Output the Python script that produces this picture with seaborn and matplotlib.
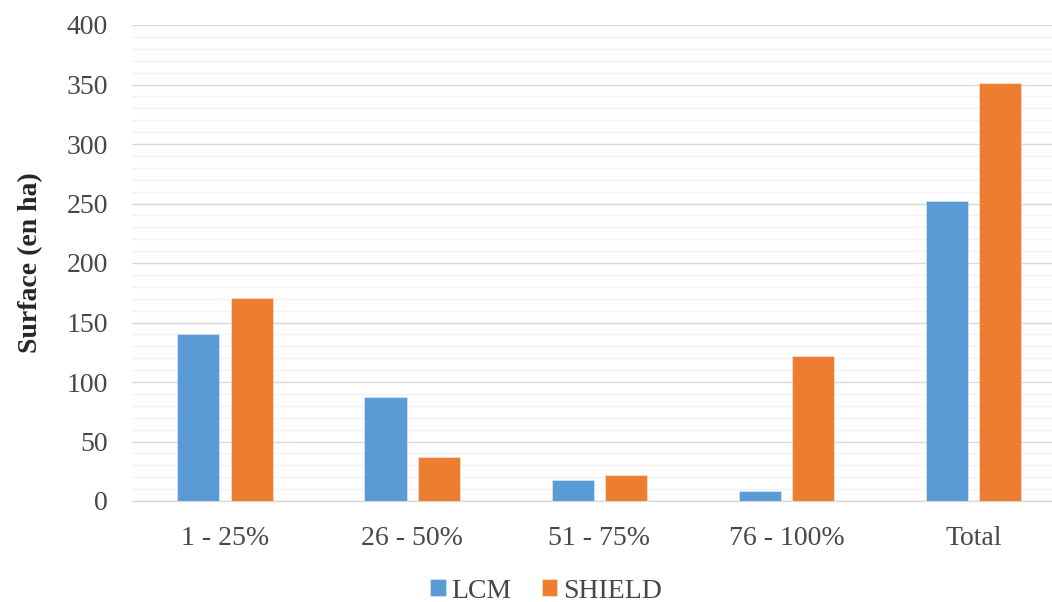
import matplotlib
matplotlib.use("Agg")
import matplotlib.pyplot as plt
from matplotlib.ticker import MultipleLocator
import pandas as pd
import seaborn as sns

categories = ["1 - 25%", "26 - 50%", "51 - 75%", "76 - 100%", "Total"]
series_names = ["LCM", "SHIELD"]
lcm_values = [140, 87, 18, 8, 252]
shield_values = [171, 37, 22, 122, 351]
y_ticks = [0, 50, 100, 150, 200, 250, 300, 350, 400]
y_label = "Surface (en ha)"

colors = {"LCM": "#5B9BD5", "SHIELD": "#ED7D31"}
text_color = "#474747"

df = pd.DataFrame({
    "category": categories * 2,
    "series": [series_names[0]] * len(categories) + [series_names[1]] * len(categories),
    "value": lcm_values + shield_values,
})

sns.set_theme(style="white")
plt.rcParams["font.family"] = ["Liberation Serif", "DejaVu Serif"]

fig = plt.figure(figsize=(10.52, 6.02), dpi=100)
ax = fig.add_axes([131.5 / 1052, 1 - 501 / 602, 1 - 131.5 / 1052, (501 - 25) / 602])

sns.barplot(data=df, x="category", y="value", hue="series", order=categories,
            hue_order=series_names, palette=colors, width=0.57, gap=0.21,
            edgecolor="#ffffff", linewidth=0.6, saturation=1, ax=ax, zorder=3)
for p in ax.patches:
    p.set_edgecolor((1, 1, 1, 0.45))

ax.set_ylim(0, 400)
ax.set_xlim(-0.5, 4.42)
ax.set_yticks(y_ticks)
ax.yaxis.set_minor_locator(MultipleLocator(10))
ax.grid(axis="y", which="minor", color="#f2f2f2", linewidth=1.0, zorder=0)
ax.grid(axis="y", which="major", color="#d9d9d9", linewidth=1.0, zorder=1)
ax.set_axisbelow(True)

for side in ["top", "right", "left"]:
    ax.spines[side].set_visible(False)
ax.spines["bottom"].set_color("#d9d9d9")
ax.spines["bottom"].set_linewidth(1.0)
ax.tick_params(axis="both", which="both", length=0, labelsize=20, colors=text_color)
ax.tick_params(axis="y", pad=17)
ax.tick_params(axis="x", pad=18)

ax.set_xlabel("")
ax.set_ylabel(y_label, fontsize=20, fontweight="bold", color="#262626")
ax.yaxis.set_label_coords(-0.096, 0.5)

handles, labels = ax.get_legend_handles_labels()
ax.legend(handles, labels, loc="center", frameon=False, ncol=2, fontsize=20,
          handlelength=0.55, handleheight=0.55, handletextpad=0.2, columnspacing=1.1,
          labelcolor=text_color)
leg = ax.get_legend()
leg.set_bbox_to_anchor((546 / 1052, 1 - 591 / 602), transform=fig.transFigure)

fig.savefig("out.png", dpi=100)
